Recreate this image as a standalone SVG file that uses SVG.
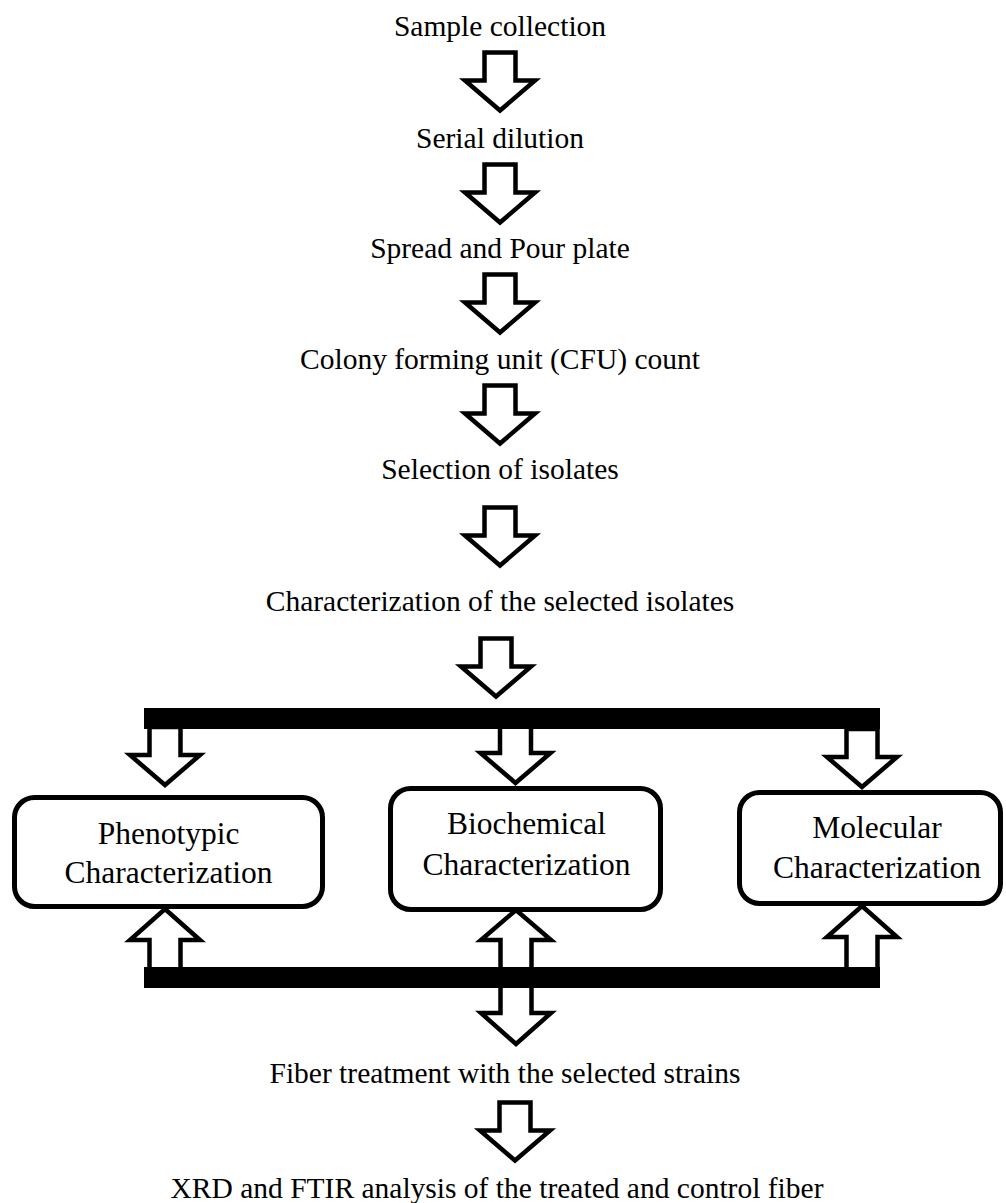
<svg xmlns="http://www.w3.org/2000/svg" xmlns:xlink="http://www.w3.org/1999/xlink" width="1006" height="1203" viewBox="0 0 1006 1203">
<style>
.t{font-family:"Liberation Serif","Times New Roman",serif;font-size:29.5px;fill:#000;text-anchor:middle}
.bt{font-family:"Liberation Serif","Times New Roman",serif;font-size:31.5px;fill:#000;text-anchor:middle}
.box{fill:#fff;stroke:#000;stroke-width:5}
.arr{fill:#fff;stroke:#000;stroke-width:4.5;stroke-linejoin:miter}
.bar{fill:#000}
</style>
<defs>
<path id="da" d="M-15.5 0 H15.5 V28 H35 L0 58 L-35 28 H-15.5 Z"/>
</defs>
<rect width="1006" height="1203" fill="#fff"/>
<g id="connectors">
<use xlink:href="#da" class="arr" transform="translate(500,52.5)"/>
<use xlink:href="#da" class="arr" transform="translate(500,164.5)"/>
<use xlink:href="#da" class="arr" transform="translate(500,274.5)"/>
<use xlink:href="#da" class="arr" transform="translate(500,385.5)"/>
<use xlink:href="#da" class="arr" transform="translate(500,507.5)"/>
<use xlink:href="#da" class="arr" transform="translate(496,638.5)"/>
<use xlink:href="#da" class="arr" transform="translate(165,727)"/>
<use xlink:href="#da" class="arr" transform="translate(515.5,725)"/>
<use xlink:href="#da" class="arr" transform="translate(862,729)"/>
<path class="arr" d="M165 909 L200 940 H180.5 V972 H149.5 V940 H130 Z"/>
<path class="arr" d="M516 910 L551 940 H531.5 V1013 H551 L516 1044 L481 1013 H500.5 V940 H481 Z"/>
<path class="arr" d="M862 906 L897 937 H877.5 V972 H846.5 V937 H827 Z"/>
<use xlink:href="#da" class="arr" transform="translate(515,1102.5)"/>
<rect class="bar" x="144" y="708" width="736" height="21"/>
<rect class="bar" x="144" y="967" width="736" height="21"/>
</g>
<g id="n1"><text class="t" x="500" y="36">Sample collection</text></g>
<g id="n2"><text class="t" x="500" y="148">Serial dilution</text></g>
<g id="n3"><text class="t" x="500" y="258">Spread and Pour plate</text></g>
<g id="n4"><text class="t" x="500" y="369">Colony forming unit (CFU) count</text></g>
<g id="n5"><text class="t" x="500" y="479">Selection of isolates</text></g>
<g id="n6"><text class="t" x="500" y="611">Characterization of the selected isolates</text></g>
<g id="n7">
<rect class="box" x="14.5" y="797.5" width="308" height="109" rx="20"/>
<text class="bt" x="168.5" y="844">Phenotypic</text>
<text class="bt" x="168.5" y="883">Characterization</text>
</g>
<g id="n8">
<rect class="box" x="390.5" y="788.5" width="270" height="121" rx="20"/>
<text class="bt" x="526.5" y="834">Biochemical</text>
<text class="bt" x="526.5" y="875">Characterization</text>
</g>
<g id="n9">
<rect class="box" x="739.5" y="792.5" width="261" height="111" rx="20"/>
<text class="bt" x="877" y="838">Molecular</text>
<text class="bt" x="877" y="878">Characterization</text>
</g>
<g id="n10"><text class="t" x="505" y="1083">Fiber treatment with the selected strains</text></g>
<g id="n11"><text class="t" x="497" y="1198">XRD and FTIR analysis of the treated and control fiber</text></g>
</svg>
